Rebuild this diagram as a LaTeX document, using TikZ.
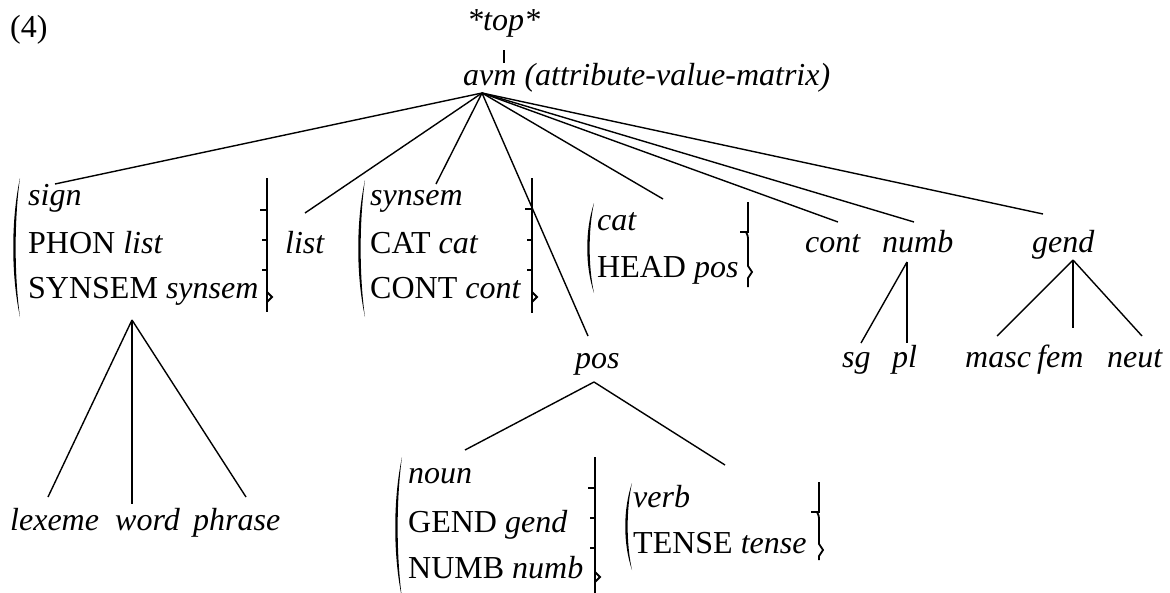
\documentclass[tikz,border=0pt]{standalone}
\usepackage{fontspec}
\setmainfont{Liberation Serif}
\newcommand\myLparen[3]{%
  \fill ({#1+7},#2) .. controls ({#1-2},{#2+0.3*(#3-#2)}) and ({#1-2},{#3-0.3*(#3-#2)}) .. ({#1+7},#3)
     .. controls ({#1+1.2},{#3-0.3*(#3-#2)}) and ({#1+1.2},{#2+0.3*(#3-#2)}) .. ({#1+7},#2) -- cycle;}
% X, top, hook, tick1, tick2, tip, bottom
\newcommand\myRbrackThree[7]{%
  \draw[brk] (#1,#2) -- (#1,#3) -- ({#1-7},#3);
  \draw[brk] (#1,#3) -- (#1,#7);
  \draw[brk] (#1,#4) -- ({#1-5},#4);
  \draw[brk] (#1,#5) -- ({#1-5},#5);
  \draw[brk] (#1,{#6-5}) -- ({#1+5},#6) -- (#1,{#6+5});}
% X, top, hook, tip, bottom
\newcommand\myRbrackTwo[5]{%
  \draw[brk] (#1,#2) -- (#1,#3) -- ({#1-8},#3);
  \draw[brk] ({#1-2},#3) .. controls (#1,{#3+4}) .. (#1,{#3+10}) -- (#1,{#4-6}) -- ({#1+4},#4) -- (#1,{#4+6}) -- (#1,#5);}
\begin{document}
\begin{tikzpicture}[x=1pt,y=-1pt,
  lbl/.style={inner sep=0pt, anchor=base west, font=\fontsize{32}{37}\selectfont},
  edge/.style={line width=1.4pt},
  brk/.style={line width=1.8pt}]
\useasboundingbox (0,0) rectangle (1170,592);

% labels
\node[lbl] (num) at (10,37) {(4)};
\node[lbl] (top) at (467,30) {\textit{*top*}};
\node[lbl] (avm) at (463,85) {\textit{avm (attribute-value-matrix)}};

% sign box
\node[lbl] (signT) at (28,205) {\textit{sign}};
\node[lbl] (signA) at (28,253) {PHON \textit{list}};
\node[lbl] (signB) at (28,298) {SYNSEM \textit{synsem}};
\myLparen{13}{178}{317}
\myRbrackThree{267}{178}{210}{240}{270}{297}{312}

\node[lbl] (list) at (285,253) {\textit{list}};

% synsem box
\node[lbl] (synT) at (370,205) {\textit{synsem}};
\node[lbl] (synA) at (370,253) {CAT \textit{cat}};
\node[lbl] (synB) at (370,298) {CONT \textit{cont}};
\myLparen{358}{180}{317}
\myRbrackThree{532}{178}{209}{240}{270}{297}{313}

% cat box
\node[lbl] (catT) at (597,230) {\textit{cat}};
\node[lbl] (catA) at (597,277) {HEAD \textit{pos}};
\myLparen{587}{203}{293}
\myRbrackTwo{748}{202}{232}{272}{287}

\node[lbl] (pos) at (575,368) {\textit{pos}};
\node[lbl] (cont) at (805,252) {\textit{cont}};
\node[lbl] (numb) at (882,252) {\textit{numb}};
\node[lbl] (gend) at (1032,252) {\textit{gend}};

\node[lbl] (sg) at (842,367) {\textit{sg}};
\node[lbl] (pl) at (892,367) {\textit{pl}};
\node[lbl] (masc) at (965,367) {\textit{masc}};
\node[lbl] (fem) at (1037,367) {\textit{fem}};
\node[lbl] (neut) at (1107,367) {\textit{neut}};

\node[lbl] (lexeme) at (10,530) {\textit{lexeme}};
\node[lbl] (word) at (115,530) {\textit{word}};
\node[lbl] (phrase) at (193,530) {\textit{phrase}};

% noun box
\node[lbl] (nounT) at (408,483) {\textit{noun}};
\node[lbl] (nounA) at (408,532) {GEND \textit{gend}};
\node[lbl] (nounB) at (408,578) {NUMB \textit{numb}};
\myLparen{395}{457}{598}
\myRbrackThree{595}{457}{488}{518}{548}{577}{598}

% verb box
\node[lbl] (verbT) at (633,507) {\textit{verb}};
\node[lbl] (verbA) at (633,553) {TENSE \textit{tense}};
\myLparen{625}{483}{570}
\myRbrackTwo{819}{482}{512}{550}{560}

% connector end points
\coordinate (topfoot) at (504,50);
\coordinate (avmhead) at (504,63);
\coordinate (fan) at (482,93);
\coordinate (eSign) at (55,184);
\coordinate (eList) at (305,213);
\coordinate (eSyn) at (436,184);
\coordinate (ePos) at (588,336);
\coordinate (eCat) at (663,199);
\coordinate (eCont) at (838,222);
\coordinate (eNumb) at (914,222);
\coordinate (eGend) at (1043,214);
\coordinate (signFoot) at (132,320);
\coordinate (eLex) at (48,497);
\coordinate (eWord) at (132,504);
\coordinate (ePhr) at (246,497);
\coordinate (posFoot) at (594,382);
\coordinate (eNoun) at (465,450);
\coordinate (eVerb) at (725,465);
\coordinate (numbFoot) at (907,262);
\coordinate (eSg) at (861,343);
\coordinate (ePl) at (907,343);
\coordinate (gendFoot) at (1073,260);
\coordinate (eMasc) at (997,336);
\coordinate (eFem) at (1073,328);
\coordinate (eNeut) at (1142,336);

% connectors
\draw[edge] (topfoot) -- (avmhead);
\foreach \e in {eSign,eList,eSyn,ePos,eCat,eCont,eNumb,eGend}
  \draw[edge] (fan) -- (\e);
\foreach \e in {eLex,eWord,ePhr}
  \draw[edge] (signFoot) -- (\e);
\foreach \e in {eNoun,eVerb}
  \draw[edge] (posFoot) -- (\e);
\foreach \e in {eSg,ePl}
  \draw[edge] (numbFoot) -- (\e);
\foreach \e in {eMasc,eFem,eNeut}
  \draw[edge] (gendFoot) -- (\e);
\end{tikzpicture}
\end{document}
